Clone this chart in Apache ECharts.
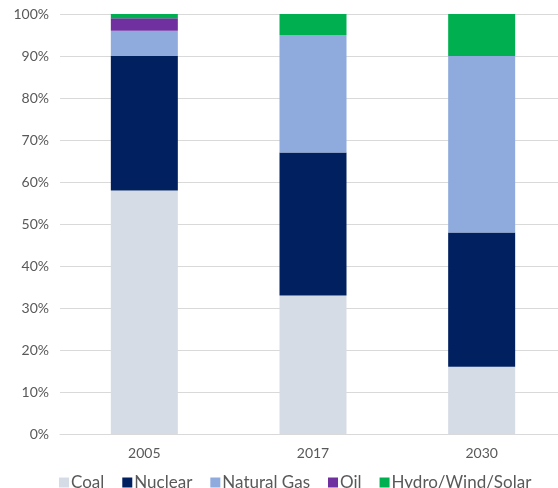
<!DOCTYPE html>
<html>
<head>
    <meta charset="UTF-8">
    <title>Generation mix</title>
    <script src="https://cdn.jsdelivr.net/npm/echarts@6/dist/echarts.min.js"></script>
    <style>
        html, body { margin: 0; padding: 0; background: #fff; }
        #chart { width: 558px; height: 488px; }
    </style>
</head>
<body>
<div id="chart"></div>
<script>
    var years = ['2005', '2017', '2030'];
    var coal = [58, 33, 16];
    var nuclear = [32, 34, 32];
    var naturalGas = [6, 28, 42];
    var oil = [3, 0, 0];
    var hydroWindSolar = [1, 5, 10];

    var names = ['Coal', 'Nuclear', 'Natural Gas', 'Oil', 'Hydro/Wind/Solar'];
    var values = [coal, nuclear, naturalGas, oil, hydroWindSolar];
    var colors = ['#d6dce5', '#002060', '#8faadc', '#7030a0', '#00b050'];

    var series = [];
    for (var i = 0; i < names.length; i++) {
        series.push({
            name: names[i],
            type: 'bar',
            stack: 'total',
            barWidth: 67,
            data: values[i],
            itemStyle: {color: colors[i]}
        });
    }

    var myChart = echarts.init(document.getElementById('chart'));
    myChart.setOption({
        animation: false,
        textStyle: {fontFamily: 'Lato'},
        color: colors,
        grid: {left: 60, width: 506, top: 14, bottom: 54, outerBoundsMode: 'none'},
        legend: {
            top: 469,
            left: 54,
            itemWidth: 10,
            itemHeight: 10,
            itemGap: 18,
            icon: 'rect',
            textStyle: {color: '#595959', fontSize: 17, fontFamily: 'Lato', padding: [0, 0, 0, -3]},
            data: names
        },
        xAxis: {
            type: 'category',
            data: years,
            axisTick: {show: false},
            axisLine: {lineStyle: {color: '#d9d9d9'}},
            axisLabel: {color: '#595959', fontSize: 14, margin: 12}
        },
        yAxis: {
            type: 'value',
            min: 0,
            max: 100,
            interval: 10,
            axisLabel: {color: '#595959', fontSize: 14, margin: 11, formatter: '{value}%'},
            splitLine: {lineStyle: {color: '#d9d9d9'}}
        },
        series: series
    });
</script>
</body>
</html>
